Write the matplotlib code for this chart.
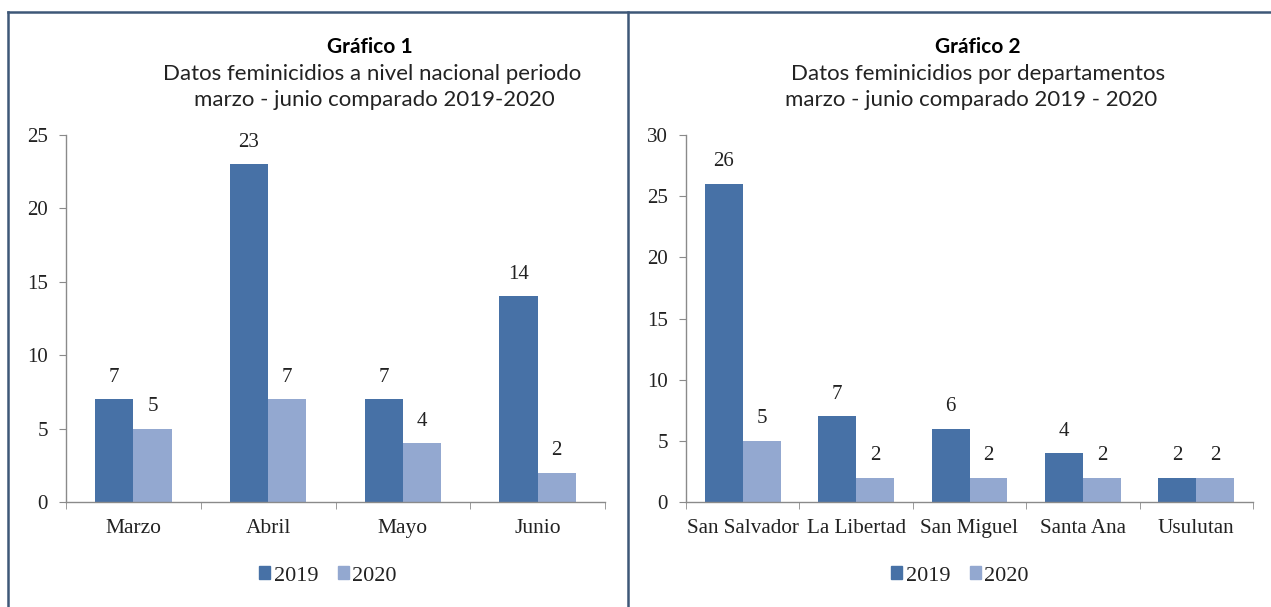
import numpy as np
import matplotlib.pyplot as plt
from matplotlib.lines import Line2D
from matplotlib.patches import Patch

# datos
meses = ["Marzo", "Abril", "Mayo", "Junio"]
mes_2019 = [7, 23, 7, 14]
mes_2020 = [5, 7, 4, 2]

deptos = ["San Salvador", "La Libertad", "San Miguel", "Santa Ana", "Usulutan"]
depto_2019 = [26, 7, 6, 4, 2]
depto_2020 = [5, 2, 2, 2, 2]

anios = ["2019", "2020"]

C19 = "#4771a6"
C20 = "#93a8d0"
BORDE = "#3e5878"
EJE = "#8a8a8a"
SERIF = "Liberation Serif"
SANS = "Lato"

fig = plt.figure(figsize=(12.71, 6.07), dpi=100)
W, H = 1271, 607


def px(x0, y0, x1, y1):
    return [x0 / W, 1 - y1 / H, (x1 - x0) / W, (y1 - y0) / H]


def barras(ax, cats, v19, v20, ymax, bw, xfs):
    x = np.arange(len(cats))
    ax.bar(x - bw / 2, v19, width=bw, color=C19)
    ax.bar(x + bw / 2, v20, width=bw, color=C20)
    for xi, v in zip(x - bw / 2, v19):
        ax.annotate(str(v), (xi, v), xytext=(0, 9), textcoords="offset points",
                    ha="center", va="bottom", fontsize=15, family=SERIF, color="#222222")
    for xi, v in zip(x + bw / 2, v20):
        ax.annotate(str(v), (xi, v), xytext=(0, 9), textcoords="offset points",
                    ha="center", va="bottom", fontsize=15, family=SERIF, color="#222222")
    ax.set_xlim(-0.5, len(cats) - 0.5)
    ax.set_ylim(0, ymax)
    ax.set_yticks(np.arange(0, ymax + 1, 5))
    ax.set_xticks(x)
    ax.set_xticklabels(cats)
    ax.set_xticks(np.arange(len(cats) + 1) - 0.5, minor=True)
    ax.tick_params(axis="x", which="major", length=0, pad=12)
    ax.tick_params(axis="x", which="minor", length=5, color=EJE, direction="out")
    ax.tick_params(axis="y", length=5, color=EJE, pad=8)
    for lab in ax.get_xticklabels() + ax.get_yticklabels():
        lab.set_family(SERIF)
        lab.set_color("#222222")
    for lab in ax.get_xticklabels():
        lab.set_fontsize(xfs)
    for lab in ax.get_yticklabels():
        lab.set_fontsize(15)
    for s in ["top", "right"]:
        ax.spines[s].set_visible(False)
    for s in ["left", "bottom"]:
        ax.spines[s].set_color(EJE)
        ax.spines[s].set_linewidth(1)


ax1 = fig.add_axes(px(66, 135, 605, 502))
barras(ax1, meses, mes_2019, mes_2020, 25, 0.283, 15.5)

ax2 = fig.add_axes(px(686, 135, 1253, 502))
barras(ax2, deptos, depto_2019, depto_2020, 30, 0.335, 15.2)

# leyendas
handles = [Patch(color=C19), Patch(color=C20)]
for cx in [328, 960]:
    leg = fig.legend(handles, anios, loc="center", bbox_to_anchor=(cx / W, 1 - 576 / H),
                     ncol=2, frameon=False, handlelength=0.5, handleheight=0.5,
                     handletextpad=0.15, columnspacing=0.9, fontsize=16)
    for t in leg.get_texts():
        t.set_fontfamily(SERIF)
        t.set_color("#222222")

# titulos
fig.text(370 / W, 1 - 47 / H, "Gráfico 1", ha="center", va="center",
         family=SANS, weight="bold", fontsize=15)
fig.text(372 / W, 1 - 74 / H, "Datos feminicidios a nivel nacional periodo", ha="center",
         va="center", family=SANS, fontsize=16, color="#222222")
fig.text(374 / W, 1 - 100 / H, "marzo - junio comparado 2019-2020", ha="center",
         va="center", family=SANS, fontsize=16, color="#222222")

fig.text(978 / W, 1 - 47 / H, "Gráfico 2", ha="center", va="center",
         family=SANS, weight="bold", fontsize=15)
fig.text(978 / W, 1 - 74 / H, "Datos feminicidios por departamentos", ha="center",
         va="center", family=SANS, fontsize=16, color="#222222")
fig.text(971 / W, 1 - 100 / H, "marzo - junio comparado 2019 - 2020", ha="center",
         va="center", family=SANS, fontsize=16, color="#222222")

# marcos de los paneles
fig.add_artist(Line2D([8 / W, 1], [1 - 12 / H] * 2, color=BORDE, lw=1.8))
fig.add_artist(Line2D([8 / W] * 2, [0, 1 - 12 / H], color=BORDE, lw=1.8))
fig.add_artist(Line2D([628 / W] * 2, [0, 1 - 12 / H], color=BORDE, lw=1.8))

fig.savefig("out.png", dpi=100)
